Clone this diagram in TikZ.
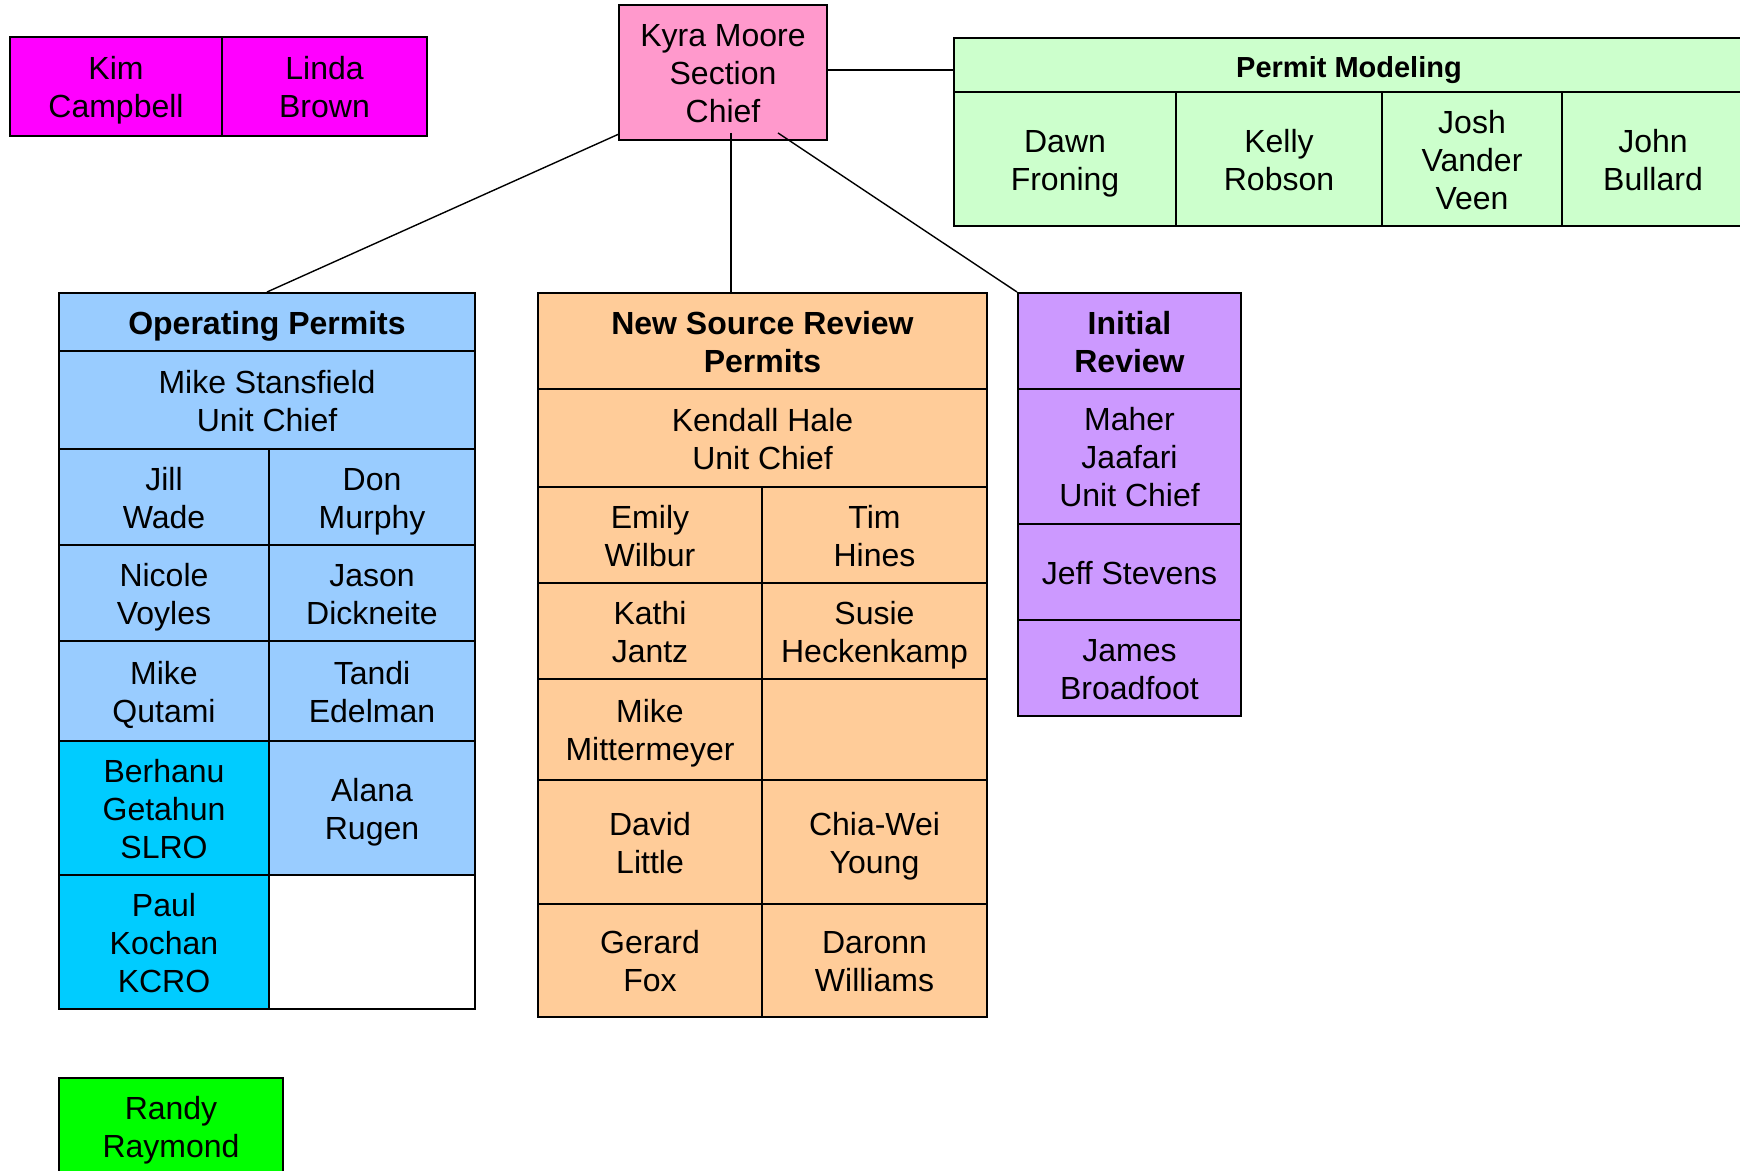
\documentclass[tikz,border=0pt]{standalone}
\usepackage{fontspec}
\setmainfont{Liberation Sans}
\usetikzlibrary{fit}
\definecolor{cmag}{HTML}{FF00FF}
\definecolor{cpink}{HTML}{FF99CC}
\definecolor{cpm}{HTML}{CCFFCC}
\definecolor{cblue}{HTML}{99CCFF}
\definecolor{ccyan}{HTML}{00CCFF}
\definecolor{cpeach}{HTML}{FFCC99}
\definecolor{clav}{HTML}{CC99FF}
\definecolor{cgreen}{HTML}{00FF00}
\newcommand{\kstop}{\rule{0pt}{15.7pt}}
\newcommand{\ksbot}{\rule[-3.35pt]{0pt}{3.35pt}}
\newcommand{\mkcell}[6][txt]{%
  \node[cell, fill=#5, fit={(#3) (#4)}] (#2) {};
  \node[#1] (#2-t) at (#2.center) {\kstop#6\ksbot};}
\begin{document}
\begin{tikzpicture}[x=0.5pt,y=-0.5pt,
  cell/.style={draw=black, line width=1pt, inner sep=0pt},
  txt/.style={inner sep=0pt, align=center, font=\fontsize{16}{19}\selectfont},
  hdr/.style={txt, font=\fontsize{16}{19}\selectfont\bfseries},
  pmhdr/.style={txt, font=\fontsize{14.5}{17.5}\selectfont\bfseries},
  conn/.style={draw=black, line width=0.7pt}]
\useasboundingbox (0,0) rectangle (1740,1171);
% top-left pair
\mkcell{kim}{10,37}{222,136}{cmag}{Kim\\Campbell}
\mkcell{linda}{222,37}{427,136}{cmag}{Linda\\Brown}
% section chief
\mkcell{kyra}{619,5}{827,140}{cpink}{Kyra Moore\\Section\\Chief}
% permit modeling
\mkcell[pmhdr]{pmh}{954,38}{1744,92}{cpm}{Permit Modeling}
\mkcell{dawn}{954,92}{1176,226}{cpm}{Dawn\\Froning}
\mkcell{kelly}{1176,92}{1382,226}{cpm}{Kelly\\Robson}
\mkcell{josh}{1382,92}{1562,226}{cpm}{Josh\\Vander\\Veen}
\mkcell{john}{1562,92}{1744,226}{cpm}{John\\Bullard}
% operating permits
\mkcell[hdr]{oph}{59,293}{475,351}{cblue}{Operating Permits}
\mkcell{mstan}{59,351}{475,449}{cblue}{Mike Stansfield\\Unit Chief}
\mkcell{jill}{59,449}{269,545}{cblue}{Jill\\Wade}
\mkcell{don}{269,449}{475,545}{cblue}{Don\\Murphy}
\mkcell{nicole}{59,545}{269,641}{cblue}{Nicole\\Voyles}
\mkcell{jason}{269,545}{475,641}{cblue}{Jason\\Dickneite}
\mkcell{mikeq}{59,641}{269,741}{cblue}{Mike\\Qutami}
\mkcell{tandi}{269,641}{475,741}{cblue}{Tandi\\Edelman}
\mkcell{berhanu}{59,741}{269,875}{ccyan}{Berhanu\\Getahun\\SLRO}
\mkcell{alana}{269,741}{475,875}{cblue}{Alana\\Rugen}
\mkcell{paul}{59,875}{269,1009}{ccyan}{Paul\\Kochan\\KCRO}
\mkcell{opempty}{269,875}{475,1009}{white}{}
% new source review
\mkcell[hdr]{nsrh}{538,293}{987,389}{cpeach}{New Source Review\\Permits}
\mkcell{kendall}{538,389}{987,487}{cpeach}{Kendall Hale\\Unit Chief}
\mkcell{emily}{538,487}{762,583}{cpeach}{Emily\\Wilbur}
\mkcell{tim}{762,487}{987,583}{cpeach}{Tim\\Hines}
\mkcell{kathi}{538,583}{762,679}{cpeach}{Kathi\\Jantz}
\mkcell{susie}{762,583}{987,679}{cpeach}{Susie\\Heckenkamp}
\mkcell{mikem}{538,679}{762,780}{cpeach}{Mike\\Mittermeyer}
\mkcell{nsrempty}{762,679}{987,780}{cpeach}{}
\mkcell{david}{538,780}{762,904}{cpeach}{David\\Little}
\mkcell{chia}{762,780}{987,904}{cpeach}{Chia-Wei\\Young}
\mkcell{gerard}{538,904}{762,1017}{cpeach}{Gerard\\Fox}
\mkcell{daronn}{762,904}{987,1017}{cpeach}{Daronn\\Williams}
% initial review
\mkcell[hdr]{irh}{1018,293}{1241,389}{clav}{Initial\\Review}
\mkcell{maher}{1018,389}{1241,524}{clav}{Maher\\Jaafari\\Unit Chief}
\mkcell{jeff}{1018,524}{1241,620}{clav}{Jeff Stevens}
\mkcell{james}{1018,620}{1241,716}{clav}{James\\Broadfoot}
% randy
\mkcell{randy}{59,1078}{283,1175}{cgreen}{Randy\\Raymond}
% connectors
\coordinate (kyraL) at (619,134);
\coordinate (kyraM) at (731,133);
\coordinate (kyraR) at (778,133);
\coordinate (kyraE) at (827,70);
\draw[conn] (kyraE) -- (kyraE -| pmh.west);
\draw[conn] (kyraL) -- (oph.north);
\draw[conn] (kyraM) -- (kyraM |- nsrh.north);
\draw[conn] (kyraR) -- (irh.north west);
\end{tikzpicture}
\end{document}
